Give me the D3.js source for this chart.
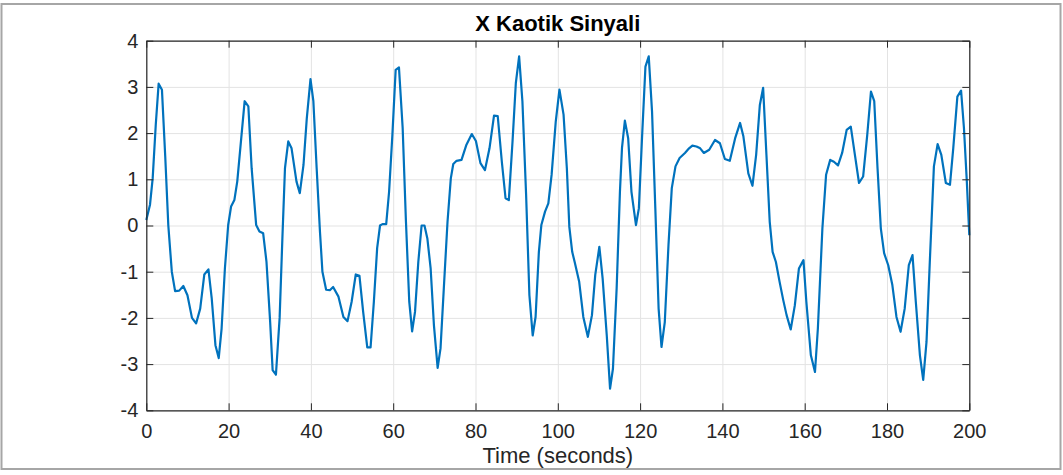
<!DOCTYPE html>
<html>
<head>
<meta charset="utf-8">
<script src="https://cdn.jsdelivr.net/npm/d3@7"></script>
<style>
  html, body { margin: 0; padding: 0; background: #fff; }
  svg { display: block; font-family: "Liberation Sans", Arial, sans-serif; }
</style>
</head>
<body>
<svg id="chart" width="1063" height="475"></svg>
<script>
// Chaotic x-signal samples (solver output times are non-uniform)
const timeSec = [
  0, 0.9, 1.55, 2.3, 3.0, 3.8, 4.6, 5.35, 6.2, 7.0, 8.0, 9.0, 10.0, 11.1, 12.1, 13.1, 14.1, 15.1, 15.9, 16.8,
  17.6, 18.3, 19.1, 19.9, 20.6, 21.4, 22.1, 23.0, 23.9, 24.8, 25.6, 26.7, 27.5, 28.4, 29.2, 30.1, 30.7, 31.5, 32.4, 33.1,
  33.7, 34.5, 35.3, 36.5, 37.3, 38.2, 39.0, 39.9, 40.6, 41.4, 42.2, 42.8, 43.7, 44.6, 45.4, 46.7, 47.9, 48.9, 49.9, 50.9,
  51.8, 52.7, 53.7, 54.5, 55.3, 56.1, 56.8, 57.4, 58.3, 59.0, 59.8, 60.6, 61.4, 62.3, 63.1, 63.9, 64.6, 65.3, 66.1, 66.9,
  67.6, 68.3, 69.1, 69.9, 70.8, 71.5, 72.3, 73.2, 74.0, 74.6, 75.4, 76.6, 77.8, 79.1, 80.1, 81.2, 82.3, 83.4, 84.5, 85.4,
  86.4, 87.3, 88.1, 89.0, 89.8, 90.6, 91.4, 92.3, 93.1, 93.9, 94.6, 95.4, 96.0, 96.9, 97.7, 98.5, 99.5, 100.4, 101.4, 102.2,
  102.8, 103.5, 104.1, 105.2, 106.2, 107.3, 108.3, 109.1, 110.1, 110.9, 111.9, 112.7, 113.4, 114.3, 115.1, 115.6, 116.3, 117.1, 117.9, 119.0,
  119.7, 120.5, 121.3, 122.1, 122.9, 123.7, 124.5, 125.2, 126.0, 126.9, 127.7, 128.6, 129.6, 130.9, 131.9, 132.7, 133.7, 134.6, 135.5, 136.8,
  138.2, 139.4, 140.6, 141.8, 143.1, 144.3, 145.1, 146.3, 147.3, 148.2, 149.1, 149.9, 150.7, 151.5, 152.2, 153.0, 153.9, 154.8, 155.6, 156.6,
  157.6, 158.6, 159.7, 160.4, 161.5, 162.5, 163.2, 164.3, 165.2, 166.2, 167.1, 168.1, 169.1, 170.2, 171.2, 172.2, 173.2, 174.2, 175.2, 176.1,
  176.9, 177.7, 178.5, 179.3, 180.3, 181.3, 182.3, 183.3, 184.3, 185.3, 186.2, 187.0, 188.0, 188.8, 189.6, 190.4, 191.4, 192.3, 193.2, 194.3,
  195.3, 196.1, 197.1, 198.0, 198.7, 199.4, 200
];
const xSignal = [
  0.12, 0.45, 1.02, 2.18, 3.07, 2.94, 1.5, 0.0, -1.0, -1.42, -1.41, -1.31, -1.51, -2.0, -2.12, -1.8, -1.06, -0.95, -1.58, -2.59,
  -2.87, -2.23, -0.93, 0.01, 0.41, 0.55, 0.95, 1.82, 2.69, 2.58, 1.24, 0.01, -0.13, -0.17, -0.78, -2.09, -3.13, -3.23, -2.0, -0.2,
  1.24, 1.82, 1.67, 0.95, 0.70, 1.31, 2.32, 3.17, 2.69, 1.24, -0.13, -1.0, -1.39, -1.4, -1.33, -1.54, -1.98, -2.07, -1.65, -1.06,
  -1.09, -1.87, -2.64, -2.64, -1.65, -0.49, 0.0, 0.03, 0.03, 0.73, 1.96, 3.37, 3.42, 2.11, 0.08, -1.65, -2.29, -1.87, -0.79, 0.0,
  0.0, -0.28, -0.93, -2.16, -3.08, -2.66, -1.36, 0.08, 1.02, 1.33, 1.40, 1.42, 1.75, 1.98, 1.83, 1.35, 1.20, 1.67, 2.38, 2.37,
  1.38, 0.59, 0.55, 1.82, 3.08, 3.66, 2.69, 0.66, -1.51, -2.38, -1.98, -0.57, 0.01, 0.30, 0.48, 1.10, 2.25, 2.94, 2.40, 1.24,
  -0.03, -0.57, -0.79, -1.22, -1.98, -2.41, -1.94, -1.07, -0.46, -1.15, -2.38, -3.53, -3.10, -1.36, 0.73, 1.68, 2.27, 1.89, 0.73, 0.01,
  0.37, 1.96, 3.44, 3.66, 2.47, 0.37, -1.80, -2.63, -2.09, -0.42, 0.81, 1.28, 1.46, 1.57, 1.67, 1.73, 1.71, 1.67, 1.57, 1.64,
  1.85, 1.78, 1.44, 1.40, 1.89, 2.22, 1.93, 1.13, 0.86, 1.53, 2.61, 2.98, 1.53, 0.08, -0.57, -0.79, -1.22, -1.62, -1.94, -2.25,
  -1.73, -0.93, -0.75, -1.65, -2.81, -3.17, -2.23, -0.06, 1.10, 1.42, 1.38, 1.30, 1.57, 2.07, 2.14, 1.53, 0.92, 1.06, 1.96, 2.90,
  2.69, 1.24, -0.06, -0.60, -0.86, -1.29, -1.98, -2.30, -1.80, -0.86, -0.64, -1.65, -2.81, -3.34, -2.52, -0.79, 1.28, 1.76, 1.53, 0.92,
  0.88, 1.67, 2.79, 2.92, 2.11, 0.95, -0.21
];
const xTicks = [0, 20, 40, 60, 80, 100, 120, 140, 160, 180, 200];
const yTicks = [-4, -3, -2, -1, 0, 1, 2, 3, 4];
const titleText = "X Kaotik Sinyali";
const xLabelText = "Time (seconds)";

const svg = d3.select("#chart");
const W = 1063, H = 475;
const margin = { left: 146.3, right: W - 969.3, top: 40.7, bottom: H - 410.3 };
const iw = W - margin.left - margin.right;
const ih = H - margin.top - margin.bottom;
const axisColor = "#262626";
const gridColor = "#e3e3e3";

// outer frame of the figure
svg.append("rect")
  .attr("x", 1.5).attr("y", 4).attr("width", W - 4).attr("height", 465)
  .attr("fill", "none").attr("stroke", "#a6a6a6").attr("stroke-width", 2);

const g = svg.append("g").attr("transform", `translate(${margin.left},${margin.top})`);

const x = d3.scaleLinear().domain([0, 200]).range([0, iw]);
const y = d3.scaleLinear().domain([-4, 4]).range([ih, 0]);

// grid
g.append("g").attr("transform", `translate(0,${ih})`)
  .call(d3.axisBottom(x).tickValues(xTicks).tickSize(-ih).tickFormat(""))
  .call(s => s.select(".domain").remove())
  .call(s => s.selectAll("line").attr("stroke", gridColor).attr("stroke-width", 1));
g.append("g")
  .call(d3.axisLeft(y).tickValues(yTicks).tickSize(-iw).tickFormat(""))
  .call(s => s.select(".domain").remove())
  .call(s => s.selectAll("line").attr("stroke", gridColor).attr("stroke-width", 1));

// signal line
const line = d3.line().x((d, i) => x(timeSec[i])).y(d => y(d));
g.append("path")
  .datum(xSignal)
  .attr("d", line)
  .attr("fill", "none")
  .attr("stroke", "#0072BD")
  .attr("stroke-width", 2.2)
  .attr("stroke-linejoin", "round");

// axes with inward ticks (box on); labels use a plain hyphen for negatives
const tickLen = 7;
const plain = d => String(d);
function styleAxis(s) {
  s.select(".domain").attr("stroke", axisColor).attr("stroke-width", 1.2);
  s.selectAll(".tick line").attr("stroke", axisColor).attr("stroke-width", 1);
  s.selectAll("text").attr("fill", axisColor).attr("font-size", 20)
    .attr("font-family", "Liberation Sans, Arial, sans-serif");
}
g.append("g").attr("transform", `translate(0,${ih})`)
  .call(d3.axisBottom(x).tickValues(xTicks).tickSizeInner(-tickLen).tickSizeOuter(0).tickPadding(14).tickFormat(plain))
  .call(styleAxis);
g.append("g")
  .call(d3.axisTop(x).tickValues(xTicks).tickSizeInner(-tickLen).tickSizeOuter(0).tickFormat(""))
  .call(styleAxis);
g.append("g")
  .call(d3.axisLeft(y).tickValues(yTicks).tickSizeInner(-tickLen).tickSizeOuter(0).tickPadding(8).tickFormat(plain))
  .call(styleAxis);
g.append("g").attr("transform", `translate(${iw},0)`)
  .call(d3.axisRight(y).tickValues(yTicks).tickSizeInner(-tickLen).tickSizeOuter(0).tickFormat(""))
  .call(styleAxis);

// title
svg.append("text")
  .attr("x", margin.left + iw / 2).attr("y", 31)
  .attr("text-anchor", "middle")
  .attr("font-size", 22).attr("font-weight", "bold")
  .attr("fill", "#000")
  .text(titleText);

// x label
svg.append("text")
  .attr("x", margin.left + iw / 2).attr("y", 463)
  .attr("text-anchor", "middle")
  .attr("font-size", 22)
  .attr("fill", axisColor)
  .text(xLabelText);
</script>
</body>
</html>
